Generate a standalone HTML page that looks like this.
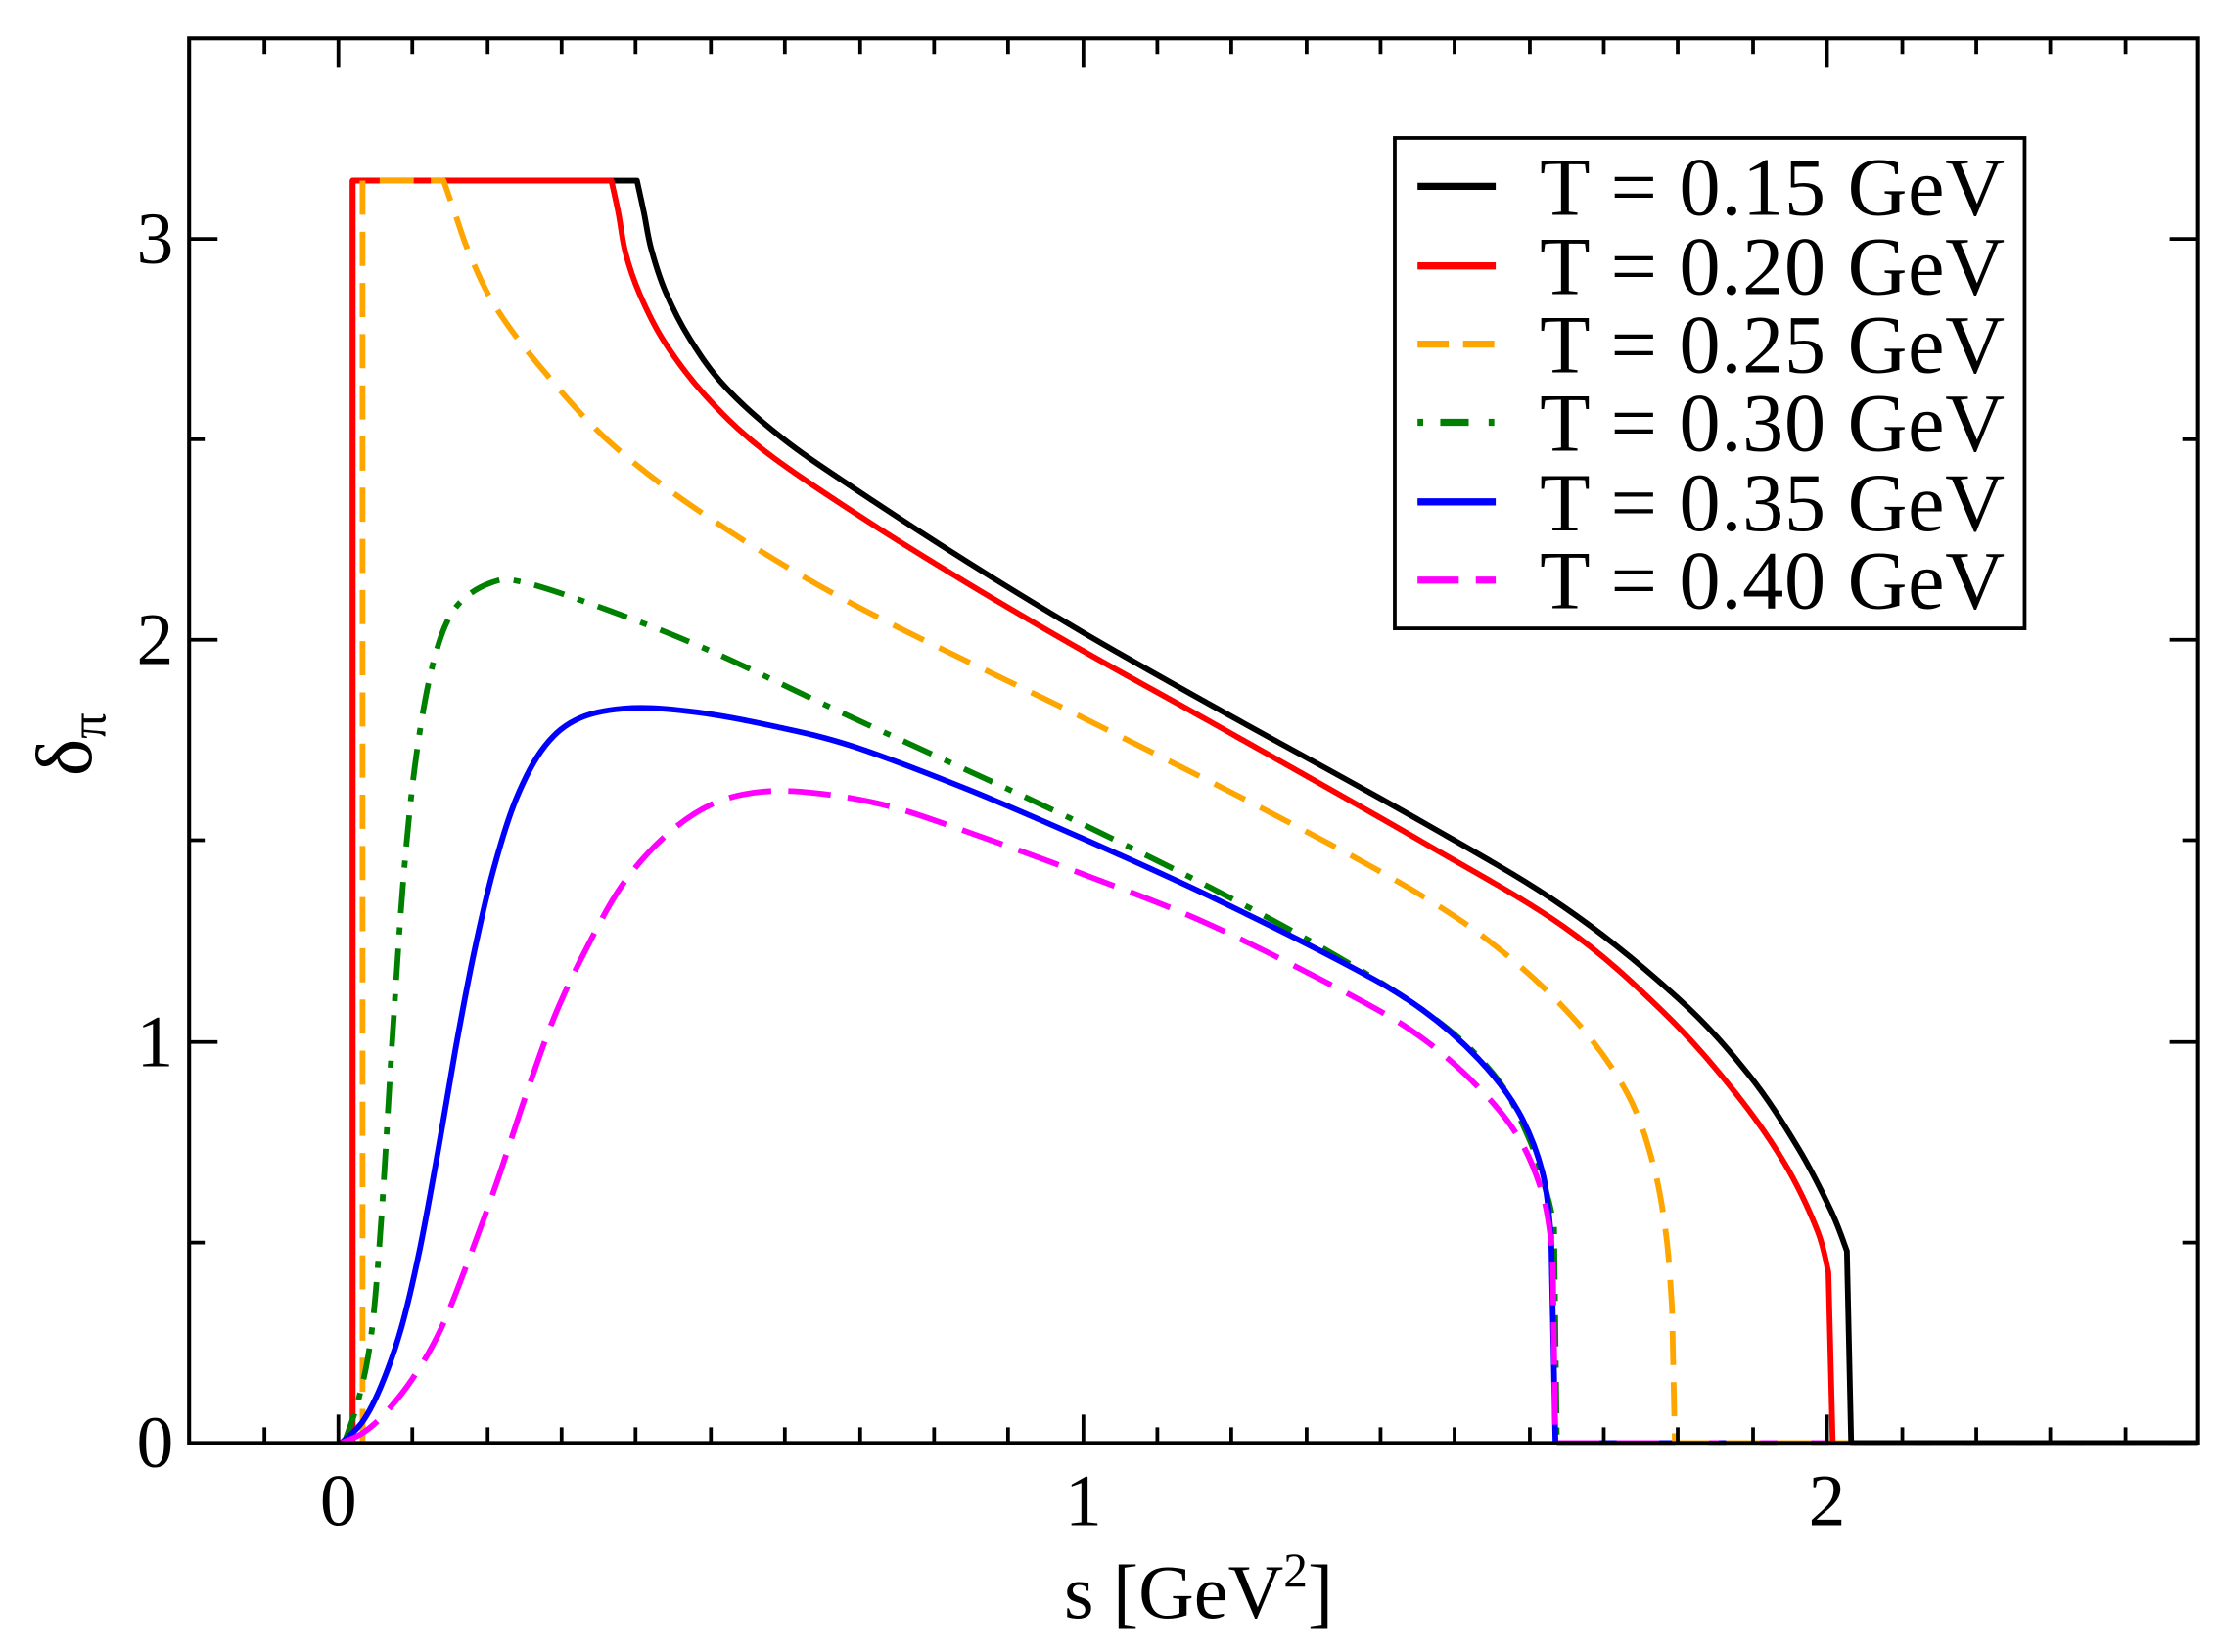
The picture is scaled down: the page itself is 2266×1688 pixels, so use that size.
<!DOCTYPE html>
<html><head><meta charset="utf-8"><style>html,body{margin:0;padding:0;background:#fff}svg{display:block}</style></head>
<body>
<svg id="s" width="2266" height="1688" viewBox="0 0 1560 1162" xmlns="http://www.w3.org/2000/svg" font-family="'Liberation Serif', serif">
<g id="curves" fill="none" stroke-width="4" stroke-linejoin="round">
<polyline stroke="#0000ff" points="1095,1015 1546,1015"/>
<polyline stroke="#ff00ff" stroke-dasharray="30,12" points="1095,1015 1546,1015"/>
<polyline stroke="#ffa500" stroke-dasharray="24,12" points="1178,1015 1546,1015"/>
<path id="k" stroke="#000"/>
<path id="r" stroke="#ff0000"/>
<path id="o" stroke="#ffa500" stroke-dasharray="24,12"/>
<path id="g" stroke="#008000" stroke-dasharray="22,10,5,10"/>
<path id="b" stroke="#0000ff"/>
<path id="m" stroke="#ff00ff" stroke-dasharray="30,12"/>
</g>
<rect x="133" y="27" width="1413" height="988" fill="none" stroke="#000" stroke-width="2.8"/>
<g stroke="#000" stroke-width="2.6">
<path d="M238,1015v-20M762,1015v-20M1285,1015v-20M238,27v20M762,27v20M1285,27v20"/>
<path d="M186,1015v-11M290,1015v-11M343,1015v-11M395,1015v-11M447,1015v-11M500,1015v-11M552,1015v-11M605,1015v-11M657,1015v-11M709,1015v-11M814,1015v-11M866,1015v-11M919,1015v-11M971,1015v-11M1023,1015v-11M1076,1015v-11M1128,1015v-11M1180,1015v-11M1233,1015v-11M1338,1015v-11M1390,1015v-11M1442,1015v-11M1495,1015v-11"/>
<path d="M186,27v11M290,27v11M343,27v11M395,27v11M447,27v11M500,27v11M552,27v11M605,27v11M657,27v11M709,27v11M814,27v11M866,27v11M919,27v11M971,27v11M1023,27v11M1076,27v11M1128,27v11M1180,27v11M1233,27v11M1338,27v11M1390,27v11M1442,27v11M1495,27v11"/>
<path d="M133,733h20M133,450h20M133,168h20M1546,733h-20M1546,450h-20M1546,168h-20"/>
<path d="M133,874h11M133,591h11M133,309h11M1546,874h-11M1546,591h-11M1546,309h-11"/>
</g>
<g font-size="52" fill="#000" text-anchor="middle">
<text x="238" y="1073">0</text><text x="762" y="1073">1</text><text x="1285" y="1073">2</text>
</g>
<g font-size="52" fill="#000" text-anchor="end">
<text x="122" y="1032">0</text><text x="122" y="750">1</text><text x="122" y="467">2</text><text x="122" y="185">3</text>
</g>
<text x="843" y="1138" font-size="54" text-anchor="middle">s [GeV<tspan font-size="34" dy="-22">2</tspan><tspan dy="22">]</tspan></text>
<text transform="translate(64,546) rotate(-90)" font-size="56">δ<tspan font-size="36" dy="10">π</tspan></text>
<rect x="981" y="97" width="443" height="345" fill="#fff" stroke="#000" stroke-width="2.6"/>
<g stroke-width="5">
<line x1="997" y1="131" x2="1052" y2="131" stroke="#000"/>
<line x1="997" y1="187" x2="1052" y2="187" stroke="#ff0000"/>
<line x1="997" y1="242" x2="1052" y2="242" stroke="#ffa500" stroke-dasharray="22,10"/>
<line x1="997" y1="297" x2="1052" y2="297" stroke="#008000" stroke-dasharray="4,12,20,14,4"/>
<line x1="997" y1="353" x2="1052" y2="353" stroke="#0000ff"/>
<line x1="997" y1="408" x2="1052" y2="408" stroke="#ff00ff" stroke-dasharray="29,12"/>
</g>
<g font-size="58" fill="#000">
<text x="1083" y="151" textLength="327">T = 0.15 GeV</text>
<text x="1083" y="207" textLength="327">T = 0.20 GeV</text>
<text x="1083" y="262" textLength="327">T = 0.25 GeV</text>
<text x="1083" y="317" textLength="327">T = 0.30 GeV</text>
<text x="1083" y="373" textLength="327">T = 0.35 GeV</text>
<text x="1083" y="428" textLength="327">T = 0.40 GeV</text>
</g>
</svg>
<script>
function cr(p){var d="";for(var i=0;i<p.length-1;i++){var p0=p[i-1]||p[i],p1=p[i],p2=p[i+1],p3=p[i+2]||p2;
d+=" C"+(p1[0]+(p2[0]-p0[0])/6)+","+(p1[1]+(p2[1]-p0[1])/6)+" "+(p2[0]-(p3[0]-p1[0])/6)+","+(p2[1]-(p3[1]-p1[1])/6)+" "+p2[0]+","+p2[1];}return d;}
function set(id,pre,pts,post){var d=pre+" L"+pts[0].join(",")+cr(pts)+(post||"");document.getElementById(id).setAttribute("d",d);}
set("k","M248,1015 L248,127 L448,127",[[448,127],[453,150],[458,175],[468,205],[485,238],[510,272],[550,308],[600,343],[680,395],[762,445],[850,495],[1000,578],[1100,638],[1180,702],[1230,756],[1265,808],[1288,852],[1299,880]]," L1302,1015 L1546,1015");
set("r","M248,1015 L248,127 L430,127",[[430,127],[435,150],[440,178],[450,207],[467,240],[495,277],[535,315],[600,360],[680,410],[762,458],[850,507],[1000,592],[1100,652],[1170,712],[1220,768],[1255,818],[1278,865],[1286,895]]," L1289,1015");
set("o","M255,1015 L255,127 L312,127",[[312,127],[320,150],[330,178],[348,215],[380,258],[430,312],[500,365],[600,425],[762,505],[900,575],[1000,630],[1060,672],[1110,720],[1145,770],[1163,820],[1172,870],[1176,920]]," L1178,1015");
set("g","M242,1015",[[242,1015],[252,985],[261,940],[268,860],[276,730],[284,615],[293,530],[305,465],[320,428],[345,410],[370,410],[430,430],[500,458],[600,505],[762,580],[900,650],[1000,710],[1050,755],[1075,800],[1088,840],[1093,862]]," L1095,1015");
set("b","M240,1015",[[240,1015],[255,1000],[268,975],[282,935],[295,880],[308,810],[320,740],[333,672],[347,612],[363,562],[383,525],[408,505],[445,498],[490,501],[545,511],[600,525],[680,555],[762,590],[850,630],[950,680],[1000,710],[1040,745],[1068,782],[1085,825],[1091,870]]," L1094,1015");
set("m","M240,1015",[[240,1015],[255,1008],[270,995],[290,970],[310,935],[330,885],[350,830],[370,770],[390,715],[412,668],[438,622],[468,588],[500,566],[535,557],[575,558],[625,567],[680,585],[762,615],[850,650],[950,700],[1000,730],[1040,765],[1068,800],[1085,840],[1092,880]]," L1094,1015");
</script>
</body></html>
